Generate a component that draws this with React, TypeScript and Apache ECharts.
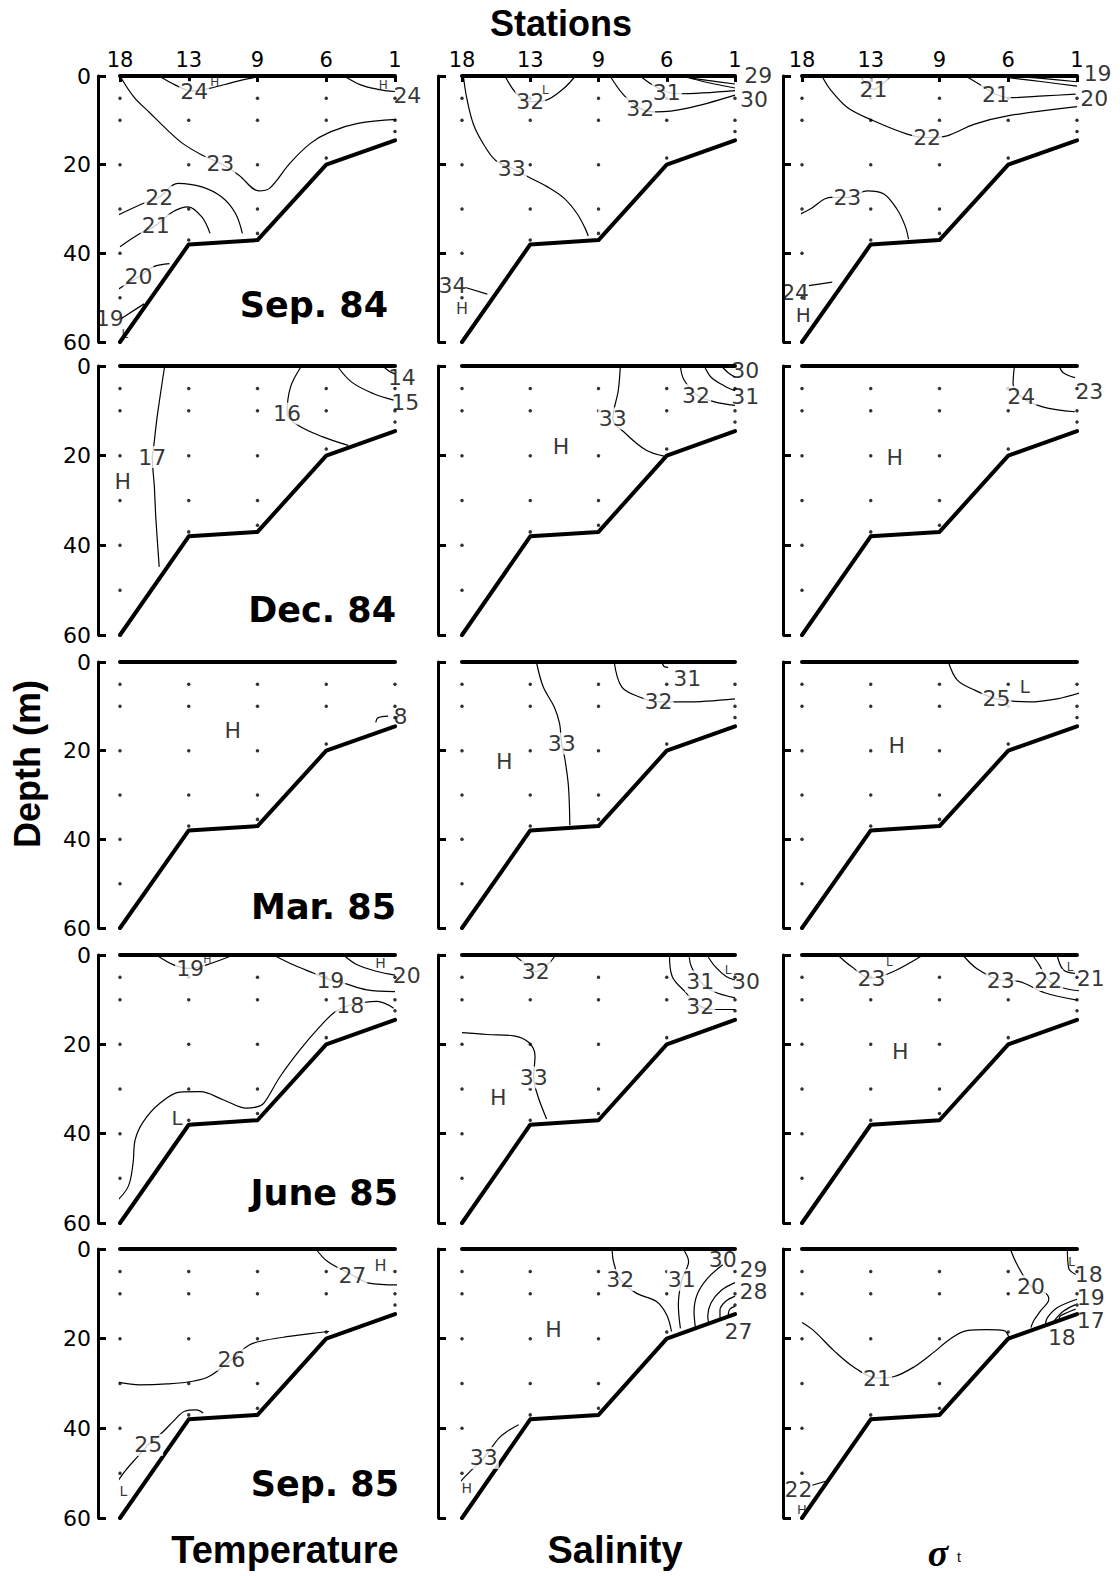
import React, { useEffect, useRef } from 'react';
import * as echarts from 'echarts';

// ---------- data ----------
const stationNames = ['18', '13', '9', '6', '1'];
const stationPos = [0, 1, 2, 3, 4];
const bottomDepth = [60, 38, 37, 20, 14.5];
const sampleDepths = [
  [5, 10, 20, 30, 40, 50],
  [5, 10, 20, 30, 37],
  [5, 10, 20, 30, 35.5],
  [5, 10, 18.5],
  [5, 10, 12.5],
];
const depthTicks = [0, 20, 40, 60];
const monthLabels = ['Sep. 84', 'Dec. 84', 'Mar. 85', 'June 85', 'Sep. 85'];
const columnTitles = ['Temperature', 'Salinity'];

type C = { v: string; p: number[][]; l: number[]; g?: boolean };
type M = [string, number, number, number];

// Row 1: Sep. 84
const tSep84: C[] = [
  { v: '24', p: [[0.57, 0], [0.8, 2.0], [1.05, 3.4], [1.3, 2.8], [1.7, 1.2], [2.0, 0.2]], l: [1.08, 3.6] },
  { v: '24', p: [[3.26, 0], [3.5, 2.0], [3.75, 3.0], [4.0, 3.5]], l: [4.18, 4.4], g: false },
  { v: '23', p: [[0, 0], [0.2, 4.7], [0.44, 8.4], [0.69, 12.2], [0.91, 15.2], [1.19, 17.8], [1.46, 19.7], [1.73, 22.4], [2.02, 25.9], [2.17, 25.4], [2.47, 19.7], [2.77, 15.2], [3.06, 12.6], [3.46, 10.7], [4.02, 9.8]], l: [1.46, 19.7] },
  { v: '22', p: [[-0.03, 31.4], [0.3, 29], [0.57, 27.3], [0.84, 24.2], [1.19, 25], [1.48, 27.3], [1.68, 31], [1.78, 35.5]], l: [0.57, 27.3] },
  { v: '21', p: [[0, 38.5], [0.25, 35.9], [0.52, 33.7], [0.77, 30.6], [0.99, 29.5], [1.19, 31.8], [1.31, 35.5]], l: [0.52, 33.7] },
  { v: '20', p: [[-0.05, 48.3], [0.27, 45.3], [0.49, 43], [0.72, 42.3]], l: [0.27, 45.3] },
  { v: '19', p: [[0.02, 54.7], [0.35, 51.4]], l: [-0.15, 54.6], g: false },
];
const sSep84: C[] = [
  { v: '32', p: [[0.63, 0], [0.8, 4], [1.0, 5.8], [1.22, 5.5], [1.49, 2.8], [1.66, 0]], l: [1.0, 5.8] },
  { v: '32', p: [[2.17, 0], [2.37, 4.3], [2.61, 7.3], [2.85, 8.1], [3.29, 7.3], [4.0, 4.3]], l: [2.61, 7.3] },
  { v: '31', p: [[2.61, 0], [2.8, 2.1], [3.0, 3.6], [3.17, 4.0], [4.0, 3.3]], l: [3.0, 3.8] },
  { v: '30', p: [[3.34, 0.5], [3.7, 1.8], [4.0, 2.7]], l: [4.28, 5.3], g: false },
  { v: '29', p: [[3.24, 0.2], [3.6, 1.0], [4.0, 1.8]], l: [4.34, -0.1], g: false },
  { v: '33', p: [[0.02, 0], [0.07, 5], [0.17, 11], [0.32, 15.5], [0.49, 19], [0.73, 20.8], [1.0, 23], [1.24, 24.9], [1.49, 27.5], [1.68, 30.9], [1.8, 34.2], [1.85, 36.1]], l: [0.73, 20.8] },
  { v: '34', p: [[0.05, 47.7], [0.37, 49.2]], l: [-0.14, 47.3], g: false },
];
const gSep84: C[] = [
  { v: '21', p: [[0.85, 0], [1.04, 3.0], [1.29, 0]], l: [1.04, 3.0] },
  { v: '21', p: [[2.38, 0], [2.62, 2.25], [2.82, 4.1], [3.01, 4.9], [3.52, 4.5], [3.98, 4.1]], l: [2.82, 4.1] },
  { v: '20', p: [[3.01, 0.4], [3.5, 1.3], [4.0, 2.3]], l: [4.25, 5.0], g: false },
  { v: '19', p: [[3.2, 0.2], [3.6, 0.7], [4.0, 1.3]], l: [4.3, -0.6], g: false },
  { v: '22', p: [[0.29, 0], [0.41, 3], [0.66, 7.1], [1.04, 10.1], [1.53, 13.1], [1.82, 13.9], [2.11, 13.5], [2.5, 10.9], [2.99, 9], [4.0, 6.9]], l: [1.82, 13.9] },
  { v: '23', p: [[-0.07, 31.5], [0.12, 30], [0.41, 27.4], [0.66, 27.4], [0.95, 25.9], [1.19, 26.6], [1.38, 30], [1.5, 33.8], [1.55, 36.8]], l: [0.66, 27.4] },
  { v: '24', p: [[0.1, 47.3], [0.44, 46.5]], l: [-0.1, 48.8], g: false },
];

// Row 2: Dec. 84
const tDec84: C[] = [
  { v: '14', p: [[3.82, 0], [3.92, 1.2], [4.0, 1.8]], l: [4.1, 2.5], g: false },
  { v: '15', p: [[3.16, 0], [3.37, 3.6], [3.69, 6.2], [3.98, 7.6]], l: [4.15, 8.1], g: false },
  { v: '16', p: [[2.64, 0], [2.48, 4.7], [2.43, 10.6], [2.59, 13.2], [2.95, 15.8], [3.32, 17.7]], l: [2.43, 10.6] },
  { v: '17', p: [[0.65, 0], [0.54, 11.4], [0.49, 18], [0.47, 20.3], [0.5, 27], [0.52, 33.6], [0.57, 44.8]], l: [0.47, 20.3] },
];
const sDec84: C[] = [
  { v: '33', p: [[2.32, 0], [2.29, 5.4], [2.21, 11.7], [2.4, 15.1], [2.7, 18.8], [2.96, 20.1]], l: [2.21, 11.7] },
  { v: '32', p: [[3.2, 0], [3.25, 3], [3.45, 6.5], [3.7, 8], [4.0, 8.8]], l: [3.43, 6.5] },
  { v: '31', p: [[3.55, 0], [3.65, 2.5], [3.85, 4.5], [4.0, 5.5]], l: [4.15, 6.8], g: false },
  { v: '30', p: [[3.8, 0], [3.9, 1.5], [4.0, 2.5]], l: [4.15, 1.0], g: false },
];
const gDec84: C[] = [
  { v: '24', p: [[3.09, 0], [3.07, 3.9], [3.19, 6.9], [3.5, 9.1], [3.97, 10.2]], l: [3.19, 6.9] },
  { v: '23', p: [[3.74, 0], [3.8, 1.5], [3.97, 2.6]], l: [4.18, 5.6], g: false },
];

// Row 3: Mar. 85
const tMar85: C[] = [
  { v: '8', p: [[3.72, 13.6], [3.75, 12.6], [3.9, 12.2]], l: [4.08, 12.4], g: false },
];
const sMar85: C[] = [
  { v: '31', p: [[2.93, 0], [2.96, 1.0], [3.02, 1.2]], l: [3.3, 3.8], g: false },
  { v: '32', p: [[2.23, 0], [2.34, 5.6], [2.6, 7.9], [2.88, 9], [3.27, 9], [4.0, 8.3]], l: [2.88, 9] },
  { v: '33', p: [[1.09, 0], [1.19, 5.6], [1.35, 10.1], [1.43, 13.9], [1.46, 18.4], [1.51, 22.1], [1.56, 28.1], [1.58, 36.8]], l: [1.46, 18.4] },
];
const gMar85: C[] = [
  { v: '25', p: [[2.13, 0], [2.26, 4.1], [2.52, 6.4], [2.83, 8.3], [3.3, 9], [3.71, 8.3], [4.07, 6.8]], l: [2.83, 8.3] },
];

// Row 4: June 85
const tJun85: C[] = [
  { v: '19', p: [[0.53, 0], [0.78, 2.2], [1.02, 3], [1.26, 2.2], [1.65, 0]], l: [1.02, 3.0] },
  { v: '19', p: [[2.23, 0], [2.52, 2.2], [2.82, 4.1], [3.06, 5.6], [3.25, 6.3], [3.59, 7.8], [4.0, 8.2]], l: [3.06, 5.6] },
  { v: '20', p: [[3.25, 0], [3.45, 2.2], [3.74, 3.7], [4.0, 4.5]], l: [4.17, 4.6], g: false },
  { v: '18', p: [[3.98, 11.9], [3.74, 10.4], [3.35, 11.2], [3.13, 12.7], [2.91, 16], [2.62, 21.2], [2.33, 27.2], [2.09, 33.2], [1.99, 34], [1.84, 34.3], [1.5, 32.4], [1.17, 30.6], [0.87, 30.7], [0.58, 33.2], [0.34, 37.3], [0.22, 41.4], [0.19, 46.6], [0.12, 51.8], [-0.07, 55.5]], l: [3.35, 11.2] },
];
const sJun85: C[] = [
  { v: '32', p: [[0.76, 0], [0.92, 1.9], [1.08, 3.7], [1.27, 1.9], [1.37, 0]], l: [1.08, 3.7] },
  { v: '32', p: [[3.04, 0], [3.08, 4.8], [3.26, 8.1], [3.49, 11.5], [3.71, 12.2], [4.0, 12.2]], l: [3.49, 11.5] },
  { v: '31', p: [[3.33, 0.5], [3.36, 2.6], [3.49, 5.9], [3.68, 8.1], [4.0, 9.6]], l: [3.49, 5.9] },
  { v: '30', p: [[3.61, 0.5], [3.71, 2.6], [3.87, 4.8], [4.0, 5.6]], l: [4.16, 5.9], g: false },
  { v: '33', p: [[0, 17.4], [0.37, 17.8], [0.76, 18.1], [0.98, 19.6], [1.07, 22.6], [1.05, 27.4], [1.11, 31.5], [1.24, 36.7]], l: [1.05, 27.4] },
];
const gJun85: C[] = [
  { v: '23', p: [[0.52, 0], [0.72, 2.6], [1.01, 5.2], [1.33, 3.7], [1.76, 0]], l: [1.01, 5.2] },
  { v: '23', p: [[2.34, 0], [2.54, 3], [2.89, 5.6], [3.15, 5.9], [3.54, 8.5], [4.0, 10.1]], l: [2.89, 5.6] },
  { v: '22', p: [[3.35, 0], [3.45, 2.2], [3.58, 5.6], [3.8, 7.4], [4.03, 8]], l: [3.58, 5.6] },
  { v: '21', p: [[3.71, 0], [3.8, 3.3], [3.97, 4.1]], l: [4.2, 5.2], g: false },
];

// Row 5: Sep. 85
const tSep85: C[] = [
  { v: '27', p: [[2.85, 0], [3.02, 2.8], [3.38, 5.8], [3.62, 7.6], [4.03, 8]], l: [3.38, 5.8] },
  { v: '26', p: [[-0.1, 29.5], [0.29, 30.3], [0.68, 30.1], [1.06, 29.5], [1.3, 28.4], [1.62, 24.7], [1.88, 21.4], [2.13, 20.3], [2.46, 19.5], [2.8, 18.8], [3.04, 18.4]], l: [1.62, 24.7] },
  { v: '25', p: [[-0.05, 52.2], [0.07, 49.6], [0.24, 46.6], [0.41, 43.7], [0.63, 40.7], [0.77, 38.5], [0.94, 36.2], [1.11, 35.9], [1.21, 36.6]], l: [0.41, 43.7] },
];
const sSep85: C[] = [
  { v: '32', p: [[2.2, 0], [2.22, 2.8], [2.32, 6.9], [2.56, 9.9], [2.85, 11.7], [3.0, 14.7], [3.07, 18.4]], l: [2.32, 6.9] },
  { v: '31', p: [[3.24, 0], [3.32, 2.8], [3.22, 6.9], [3.17, 12.5], [3.2, 17.7]], l: [3.22, 6.9] },
  { v: '30', p: [[3.82, 3.5], [3.6, 6.5], [3.45, 10], [3.4, 14], [3.42, 17.5]], l: [3.82, 2.3], g: false },
  { v: '29', p: [[4.0, 7.5], [3.8, 9.2], [3.65, 12], [3.6, 15], [3.62, 16.8]], l: [4.27, 4.5], g: false },
  { v: '28', p: [[4.0, 10.5], [3.86, 11.7], [3.78, 13.6], [3.78, 15.8]], l: [4.27, 9.5], g: false },
  { v: '27', p: [[4.0, 12.8], [3.92, 13.5], [3.9, 15.3]], l: [4.05, 18.4], g: false },
  { v: '33', p: [[-0.02, 51.8], [0.12, 49.6], [0.32, 46.6], [0.54, 42.2], [0.66, 40.7], [0.83, 39.2]], l: [0.32, 46.6] },
];
const gSep85: C[] = [
  { v: '20', p: [[3.03, 0], [3.13, 3.5], [3.33, 8.3], [3.54, 9.8], [3.59, 11.2], [3.47, 13.8], [3.37, 16], [3.33, 17.5]], l: [3.33, 8.3] },
  { v: '18', p: [[3.86, 0], [3.88, 4.3], [3.98, 5.7]], l: [4.17, 5.7], g: false },
  { v: '19', p: [[4.0, 11.2], [3.71, 13.1], [3.57, 15.3], [3.54, 16.7]], l: [4.2, 10.9], g: false },
  { v: '17', p: [[3.98, 13.4], [3.76, 14.9], [3.74, 15.6]], l: [4.2, 16.0], g: false },
  { v: '18', p: [[3.98, 12.4], [3.8, 13.9], [3.66, 16.2]], l: [3.78, 19.7], g: false },
  { v: '21', p: [[0, 16.4], [0.17, 18.2], [0.46, 22.6], [0.75, 26.3], [1.09, 28.8], [1.33, 28.5], [1.63, 26.3], [1.92, 23], [2.16, 20], [2.4, 18.2], [2.69, 18], [2.94, 18.2], [3.01, 19.7]], l: [1.09, 28.8] },
  { v: '22', p: [[0.15, 52.7], [0.34, 51.8]], l: [-0.05, 53.6], g: false },
];

// H / L markers: [text, station position, depth, font size]
const mtSep84: M[] = [['H', 1.38, 1.3, 12], ['H', 3.83, 2.0, 12], ['L', 0.07, 58.2, 12]];
const msSep84: M[] = [['L', 1.22, 3.2, 12], ['H', 0.0, 52.5, 16]];
const mgSep84: M[] = [['H', 0.02, 54, 20]];
const mtDec84: M[] = [['H', 0.04, 25.8, 22]];
const msDec84: M[] = [['H', 1.45, 18, 22]];
const mgDec84: M[] = [['H', 1.35, 20.3, 22]];
const mtMar85: M[] = [['H', 1.64, 15.4, 22]];
const msMar85: M[] = [['H', 0.62, 22.5, 22]];
const mgMar85: M[] = [['L', 3.24, 5.6, 18], ['H', 1.38, 18.8, 22]];
const mtJun85: M[] = [['H', 1.27, 1.0, 11], ['H', 3.79, 1.9, 14], ['L', 0.83, 36.5, 20]];
const msJun85: M[] = [['L', 3.9, 3.3, 12], ['H', 0.53, 31.9, 22]];
const mgJun85: M[] = [['L', 1.27, 1.5, 12], ['L', 3.9, 2.6, 12], ['H', 1.43, 21.5, 22]];
const mtSep85: M[] = [['H', 3.79, 3.6, 16], ['L', 0.05, 54, 14]];
const msSep85: M[] = [['H', 0.07, 53.3, 14], ['H', 1.34, 18, 22]];
const mgSep85: M[] = [['L', 3.92, 3.0, 12], ['H', 0.0, 58.2, 13]];

const panels: C[][][] = [
  [tSep84, sSep84, gSep84],
  [tDec84, sDec84, gDec84],
  [tMar85, sMar85, gMar85],
  [tJun85, sJun85, gJun85],
  [tSep85, sSep85, gSep85],
];
const markers: M[][][] = [
  [mtSep84, msSep84, mgSep84],
  [mtDec84, msDec84, mgDec84],
  [mtMar85, msMar85, mgMar85],
  [mtJun85, msJun85, mgJun85],
  [mtSep85, msSep85, mgSep85],
];

// ---------- layout ----------
const colLeft = [120, 462, 802];
const colWidth = [275, 273, 275];
const spineOffset = [22, 24, 19];
const rowTop = [76, 366, 662, 955, 1249];
const rowHeight = [266, 269, 266, 268, 269];
const monthLabelPos = [[388, 305], [396, 610], [396, 907], [398, 1193], [399, 1484]];

const NUM_FONT = '"DejaVu Sans", sans-serif';
const TITLE_FONT = '"Liberation Sans", Arial, sans-serif';

function buildOption() {
  const grid: any[] = [];
  const xAxis: any[] = [];
  const yAxis: any[] = [];
  const series: any[] = [];
  let idx = 0;
  for (let r = 0; r < 5; r++) {
    for (let c = 0; c < 3; c++) {
      grid.push({ left: colLeft[c], top: rowTop[r], width: colWidth[c], height: rowHeight[r] });
      xAxis.push({
        gridIndex: idx,
        type: 'value',
        min: 0,
        max: 4,
        interval: 1,
        position: 'top',
        axisLine: { show: true, onZero: false, lineStyle: { color: '#000', width: 4, cap: 'round' } },
        axisTick: { show: r === 0, inside: true, length: 6, lineStyle: { color: '#000', width: 3 } },
        axisLabel: {
          show: r === 0,
          color: '#000',
          fontSize: 21,
          fontFamily: NUM_FONT,
          margin: 6,
          formatter: (v: number) => stationNames[stationPos.indexOf(Math.round(v))] ?? '',
        },
        splitLine: { show: false },
      });
      yAxis.push({
        gridIndex: idx,
        type: 'value',
        min: 0,
        max: 60,
        interval: 20,
        inverse: true,
        offset: spineOffset[c],
        axisLine: { show: true, onZero: false, lineStyle: { color: '#000', width: 3 } },
        axisTick: { show: true, inside: true, length: 8, lineStyle: { color: '#000', width: 3 } },
        axisLabel: {
          show: c === 0,
          color: '#000',
          fontSize: 22,
          fontFamily: NUM_FONT,
          margin: 7,
          formatter: (v: number) => (depthTicks.includes(v) ? String(v) : ''),
        },
        splitLine: { show: false },
      });

      // bottom profile
      series.push({
        type: 'line',
        xAxisIndex: idx,
        yAxisIndex: idx,
        data: stationPos.map((x, k) => [x, bottomDepth[k]]),
        symbol: 'none',
        clip: false,
        z: 3,
        lineStyle: { color: '#000', width: 4, cap: 'round', join: 'round' },
        silent: true,
      });
      // sample dots
      const dots: number[][] = [];
      stationPos.forEach((x, k) => sampleDepths[k].forEach((d) => dots.push([x, d])));
      series.push({
        type: 'scatter',
        xAxisIndex: idx,
        yAxisIndex: idx,
        data: dots,
        symbol: 'circle',
        symbolSize: 3.5,
        itemStyle: { color: '#000' },
        z: 2,
        silent: true,
      });
      // contours
      const cs = panels[r][c];
      cs.forEach((ct) => {
        series.push({
          type: 'line',
          xAxisIndex: idx,
          yAxisIndex: idx,
          data: ct.p,
          smooth: 0.35,
          symbol: 'none',
          clip: false,
          z: 2,
          lineStyle: { color: '#000', width: 1.2 },
          silent: true,
        });
      });
      // contour labels
      series.push({
        type: 'scatter',
        xAxisIndex: idx,
        yAxisIndex: idx,
        clip: false,
        symbol: 'circle',
        symbolSize: 1,
        itemStyle: { color: 'rgba(0,0,0,0)' },
        z: 6,
        silent: true,
        data: cs.map((ct) => ({
          value: ct.l,
          name: ct.v,
          label: {
            show: true,
            position: 'inside',
            formatter: '{b}',
            color: '#000',
            fontSize: 22,
            fontFamily: NUM_FONT,
            backgroundColor: ct.g === false ? 'transparent' : '#fff',
            padding: [0, 1],
          },
        })),
      });
      // H/L markers
      series.push({
        type: 'scatter',
        xAxisIndex: idx,
        yAxisIndex: idx,
        clip: false,
        symbol: 'circle',
        symbolSize: 1,
        itemStyle: { color: 'rgba(0,0,0,0)' },
        z: 6,
        silent: true,
        data: markers[r][c].map((m) => ({
          value: [m[1], m[2]],
          name: m[0],
          label: {
            show: true,
            position: 'inside',
            formatter: '{b}',
            color: '#000',
            fontSize: m[3],
            fontFamily: NUM_FONT,
          },
        })),
      });
      idx++;
    }
  }

  const graphic: any[] = [
    {
      type: 'text',
      x: 561,
      y: 23,
      style: { text: 'Stations', fill: '#000', font: `bold 36px ${TITLE_FONT}`, textAlign: 'center', textVerticalAlign: 'middle' },
    },
    {
      type: 'text',
      x: 27,
      y: 764,
      rotation: Math.PI / 2,
      style: { text: 'Depth (m)', fill: '#000', font: `bold 36px ${TITLE_FONT}`, textAlign: 'center', textVerticalAlign: 'middle' },
    },
    {
      type: 'text',
      x: 285,
      y: 1550,
      style: { text: columnTitles[0], fill: '#000', font: `bold 38px ${TITLE_FONT}`, textAlign: 'center', textVerticalAlign: 'middle' },
    },
    {
      type: 'text',
      x: 615,
      y: 1550,
      style: { text: columnTitles[1], fill: '#000', font: `bold 38px ${TITLE_FONT}`, textAlign: 'center', textVerticalAlign: 'middle' },
    },
    {
      type: 'text',
      x: 938,
      y: 1553,
      style: { text: 'σ', fill: '#000', font: `italic bold 38px "Liberation Serif", serif`, textAlign: 'center', textVerticalAlign: 'middle' },
    },
    {
      type: 'text',
      x: 959,
      y: 1557,
      style: { text: 't', fill: '#000', font: `14px ${TITLE_FONT}`, textAlign: 'center', textVerticalAlign: 'middle' },
    },
  ];
  monthLabels.forEach((m, r) => {
    graphic.push({
      type: 'text',
      x: monthLabelPos[r][0],
      y: monthLabelPos[r][1],
      style: { text: m, fill: '#000', font: `bold 35px "DejaVu Sans", sans-serif`, textAlign: 'right', textVerticalAlign: 'middle' },
    });
  });

  return {
    animation: false,
    backgroundColor: '#fff',
    grid,
    xAxis,
    yAxis,
    series,
    graphic,
  };
}

export default function App() {
  const ref = useRef<HTMLDivElement>(null);
  useEffect(() => {
    if (!ref.current) return;
    const chart = echarts.init(ref.current, undefined, { renderer: 'svg' });
    chart.setOption(buildOption() as any);
    return () => chart.dispose();
  }, []);
  return (
    <div
      ref={ref}
      style={{ position: 'absolute', left: 0, top: 0, width: 1120, height: 1576, background: '#fff' }}
    />
  );
}
